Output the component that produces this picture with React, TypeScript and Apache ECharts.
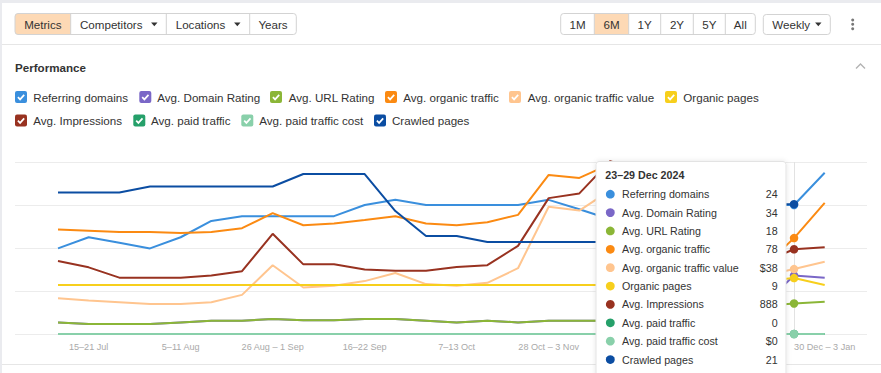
import React, { useEffect, useRef } from 'react';
import * as echarts from 'echarts';

// ---------- data ----------
const categories = [
  '8–14 Jul', '15–21 Jul', '22–28 Jul', '29 Jul – 4 Aug', '5–11 Aug', '12–18 Aug', '19–25 Aug',
  '26 Aug – 1 Sep', '2–8 Sep', '9–15 Sep', '16–22 Sep', '23–29 Sep', '30 Sep – 6 Oct', '7–13 Oct',
  '14–20 Oct', '21–27 Oct', '28 Oct – 3 Nov', '4–10 Nov', '11–17 Nov', '18–24 Nov', '25 Nov – 1 Dec',
  '2–8 Dec', '9–15 Dec', '16–22 Dec', '23–29 Dec', '30 Dec – 3 Jan',
];

const seriesNames = [
  'Referring domains', 'Avg. Domain Rating', 'Avg. URL Rating', 'Avg. organic traffic',
  'Avg. organic traffic value', 'Organic pages', 'Avg. Impressions', 'Avg. paid traffic',
  'Avg. paid traffic cost', 'Crawled pages',
];

const seriesColors = [
  '#3a8fdd', '#7a67c7', '#8bb637', '#fb8a12', '#ffc58f', '#f7cf1c', '#983220', '#25a06a', '#89d0aa', '#0b4da2',
];

// values are relative chart positions (each metric is scaled on its own)
const referringDomains = [1.99, 2.25, 2.12, 1.99, 2.25, 2.63, 2.74, 2.74, 2.74, 2.74, 3.0, 3.12, 3.0, 3.0, 3.0, 3.0, 3.12, 2.9, 2.67, 2.67, 2.74, 2.88, 3.0, 3.0, 3.0, 3.75];
const urlRating = [0.27, 0.23, 0.23, 0.23, 0.27, 0.31, 0.31, 0.35, 0.32, 0.32, 0.35, 0.35, 0.31, 0.27, 0.31, 0.27, 0.31, 0.31, 0.31, 0.31, 0.31, 0.37, 0.51, 0.65, 0.71, 0.75];
const domainRating = [0.27, 0.23, 0.23, 0.23, 0.27, 0.31, 0.31, 0.35, 0.32, 0.32, 0.35, 0.35, 0.31, 0.27, 0.31, 0.27, 0.31, 0.31, 0.31, 0.31, 0.31, 0.37, 0.51, 0.68, 1.36, 1.31];
const organicTraffic = [2.43, 2.4, 2.37, 2.37, 2.35, 2.37, 2.46, 2.81, 2.53, 2.57, 2.65, 2.74, 2.57, 2.53, 2.6, 2.77, 3.7, 3.63, 3.95, 3.81, 3.47, 2.77, 2.07, 1.56, 2.23, 3.05];
const organicTrafficValue = [0.83, 0.78, 0.74, 0.7, 0.7, 0.74, 0.91, 1.6, 1.08, 1.12, 1.23, 1.42, 1.16, 1.12, 1.19, 1.53, 2.96, 2.87, 3.34, 3.23, 2.77, 2.19, 1.67, 1.35, 1.51, 1.68];
const organicPages = [1.14, 1.14, 1.14, 1.14, 1.14, 1.14, 1.14, 1.14, 1.14, 1.14, 1.14, 1.14, 1.14, 1.14, 1.14, 1.14, 1.14, 1.14, 1.14, 1.14, 1.14, 1.14, 1.14, 1.23, 1.3, 1.14];
const impressions = [1.7, 1.55, 1.31, 1.31, 1.31, 1.36, 1.46, 2.33, 1.62, 1.62, 1.5, 1.47, 1.47, 1.56, 1.6, 2.05, 3.16, 3.27, 4.02, 3.81, 3.35, 2.65, 2.07, 1.67, 1.97, 2.02];
const paidTraffic = [0, 0, 0, 0, 0, 0, 0, 0, 0, 0, 0, 0, 0, 0, 0, 0, 0, 0, 0, 0, 0, 0, 0, 0, 0, 0];
const paidTrafficCost = [0, 0, 0, 0, 0, 0, 0, 0, 0, 0, 0, 0, 0, 0, 0, 0, 0, 0, 0, 0, 0, 0, 0, 0, 0, 0];
const crawledPages = [3.29, 3.29, 3.29, 3.43, 3.43, 3.43, 3.43, 3.43, 3.72, 3.72, 3.72, 2.86, 2.28, 2.28, 2.14, 2.14, 2.14, 2.14, 2.14, 2.14, 2.42, 2.77, 3.0, 3.02, 3.02, null];

const seriesData = [
  referringDomains, domainRating, urlRating, organicTraffic, organicTrafficValue,
  organicPages, impressions, paidTraffic, paidTrafficCost, crawledPages,
];

const tooltipIndex = 24;
const tooltipTitle = '23–29 Dec 2024';
const tooltipValues = ['24', '34', '18', '78', '$38', '9', '888', '0', '$0', '21'];

const toolbarLeft = ['Metrics', 'Competitors', 'Locations', 'Years'];
const toolbarRight = ['1M', '6M', '1Y', '2Y', '5Y', 'All'];
const intervalLabel = 'Weekly';
const sectionTitle = 'Performance';

// ---------- layout ----------
const FONT = 'Arial, "Liberation Sans", Helvetica, sans-serif';
const TEXT = '#333333';
const ACTIVE_BG = '#fdd9b5';
const BORDER = '#d3d3d3';

const legendLayout = [
  { row: 0, box: 15, text: 33.3 },
  { row: 0, box: 139.3, text: 157.3 },
  { row: 0, box: 270, text: 288.7 },
  { row: 0, box: 385, text: 403.3 },
  { row: 0, box: 509, text: 527.7 },
  { row: 0, box: 665, text: 683.3 },
  { row: 1, box: 15, text: 33.3 },
  { row: 1, box: 133.3, text: 151 },
  { row: 1, box: 241.3, text: 259.3 },
  { row: 1, box: 374, text: 392 },
];
const legendRowY = [97, 120.5];

function text(x: number, y: number, t: string, o: any = {}) {
  return {
    type: 'text', x, y, z: o.z ?? 10, silent: true,
    style: {
      text: t, fontSize: o.size ?? 11.6, fontFamily: FONT, fontWeight: o.weight ?? 'normal',
      fill: o.fill ?? TEXT, align: o.align ?? 'left', verticalAlign: 'middle',
    },
  };
}

function arrow(cx: number, cy: number) {
  return {
    type: 'polygon', z: 10, silent: true,
    shape: { points: [[cx - 3.2, cy - 1.8], [cx + 3.2, cy - 1.8], [cx, cy + 1.9]] },
    style: { fill: '#333' },
  };
}

function buttonGroup(bounds: number[], labels: string[], active: number, y: number, h: number, custom?: (i: number, x0: number, x1: number) => any[] | null) {
  const els: any[] = [];
  const x0 = bounds[0];
  const x1 = bounds[bounds.length - 1];
  const a0 = bounds[active];
  const a1 = bounds[active + 1];
  els.push({
    type: 'rect', z: 8, silent: true,
    shape: { x: a0, y, width: a1 - a0, height: h, r: active === 0 ? [3, 0, 0, 3] : 0 },
    style: { fill: ACTIVE_BG },
  });
  els.push({
    type: 'rect', z: 9, silent: true,
    shape: { x: x0, y, width: x1 - x0, height: h, r: 3 },
    style: { fill: 'none', stroke: BORDER, lineWidth: 1 },
  });
  for (let i = 1; i < bounds.length - 1; i++) {
    els.push({
      type: 'line', z: 9, silent: true,
      shape: { x1: bounds[i], y1: y, x2: bounds[i], y2: y + h },
      style: { stroke: BORDER, lineWidth: 1 },
    });
  }
  labels.forEach((l, i) => {
    const c = custom ? custom(i, bounds[i], bounds[i + 1]) : null;
    if (c) els.push(...c);
    else els.push(text((bounds[i] + bounds[i + 1]) / 2, y + h / 2, l, { align: 'center' }));
  });
  return els;
}

function buildGraphics() {
  const g: any[] = [];
  // page frame
  g.push({ type: 'rect', z: 1, silent: true, shape: { x: 0, y: 0, width: 881, height: 3 }, style: { fill: '#eaebef' } });
  g.push({ type: 'rect', z: 1, silent: true, shape: { x: 0, y: 0, width: 2, height: 373 }, style: { fill: '#eaebef' } });
  g.push({ type: 'line', z: 1, silent: true, shape: { x1: 2, y1: 44.5, x2: 881, y2: 44.5 }, style: { stroke: '#e6e6e6', lineWidth: 1 } });
  g.push({ type: 'line', z: 1, silent: true, shape: { x1: 2, y1: 364.5, x2: 881, y2: 364.5 }, style: { stroke: '#e6e6e6', lineWidth: 1 } });

  // toolbar left
  g.push(...buttonGroup([15, 70.7, 166.3, 249.7, 296.3], toolbarLeft, 0, 13.5, 21, (i) => {
    if (i === 1) return [text(80, 24, toolbarLeft[1]), arrow(154.3, 24.3)];
    if (i === 2) return [text(175.7, 24, toolbarLeft[2]), arrow(237.3, 24.3)];
    return null;
  }));
  // toolbar right
  g.push(...buttonGroup([560.7, 594.3, 628.7, 660.7, 693.3, 725.3, 755.3], toolbarRight, 1, 13.5, 21));
  g.push({
    type: 'rect', z: 9, silent: true,
    shape: { x: 763.3, y: 14.5, width: 67, height: 20, r: 3 },
    style: { fill: '#fff', stroke: BORDER, lineWidth: 1 },
  });
  g.push(text(772.3, 24.5, intervalLabel));
  g.push(arrow(818.3, 24.3));
  [20, 24.3, 28.7].forEach((cy) => {
    g.push({ type: 'circle', z: 10, silent: true, shape: { cx: 852.7, cy, r: 1.5 }, style: { fill: '#777' } });
  });

  // section title
  g.push(text(15, 67.7, sectionTitle, { weight: 'bold' }));
  g.push({
    type: 'polyline', z: 10, silent: true,
    shape: { points: [[856, 68.5], [860.5, 64], [865, 68.5]] },
    style: { stroke: '#b3b3b3', lineWidth: 1.4, fill: 'none' },
  });

  // legend
  seriesNames.forEach((name, i) => {
    const L = legendLayout[i];
    const cy = legendRowY[L.row];
    const bx = L.box;
    const by = cy - 6;
    g.push({
      type: 'rect', z: 10, silent: true,
      shape: { x: bx, y: by, width: 12, height: 12, r: 2 },
      style: { fill: seriesColors[i] },
    });
    g.push({
      type: 'polyline', z: 11, silent: true,
      shape: { points: [[bx + 2.9, by + 6.1], [bx + 5.1, by + 8.4], [bx + 9.2, by + 3.9]] },
      style: { stroke: '#ffffff', lineWidth: 1.7, fill: 'none' },
    });
    g.push(text(L.text, cy, name));
  });

  // tooltip
  const tx = 596;
  const ty = 161.5;
  g.push({
    type: 'rect', z: 100, silent: true,
    shape: { x: tx, y: ty, width: 190, height: 216, r: 3 },
    style: { fill: '#ffffff', stroke: '#e3e3e3', lineWidth: 1, shadowBlur: 5, shadowColor: 'rgba(0,0,0,0.10)' },
  });
  g.push(text(605.3, 175, tooltipTitle, { weight: 'bold', size: 10.7, z: 101 }));
  seriesNames.forEach((name, i) => {
    const cy = 194.2 + i * 18.37;
    g.push({ type: 'circle', z: 101, silent: true, shape: { cx: 610.3, cy, r: 4.4 }, style: { fill: seriesColors[i] } });
    g.push(text(622, cy, name, { size: 10.7, z: 101 }));
    g.push(text(777.6, cy, tooltipValues[i], { size: 10.7, z: 101, align: 'right' }));
  });
  return g;
}

export default function App() {
  const ref = useRef<HTMLDivElement>(null);
  useEffect(() => {
    if (!ref.current) return;
    const chart = echarts.init(ref.current, null, { renderer: 'svg' });
    const hiddenLabels = (i: number) => i >= 18 && i <= 23;
    const series: any[] = seriesNames.map((name, i) => ({
      name,
      type: 'line',
      xAxisIndex: 1,
      yAxisIndex: 1,
      data: seriesData[i],
      color: seriesColors[i],
      lineStyle: { width: 2, color: seriesColors[i] },
      itemStyle: { color: seriesColors[i], borderWidth: 0 },
      symbol: 'circle',
      showSymbol: true,
      showAllSymbol: true,
      symbolSize: (_v: any, p: any) => (p.dataIndex === tooltipIndex ? 8.5 : 0),
      clip: false,
      silent: true,
      z: 3,
      emphasis: { disabled: true },
      markLine: i === 0 ? {
        silent: true,
        z: 1,
        symbol: ['none', 'none'],
        label: { show: false },
        lineStyle: { color: '#e2e2e2', width: 1, type: 'solid' },
        data: [{ xAxis: categories[tooltipIndex] }],
      } : undefined,
    }));
    chart.setOption({
      animation: false,
      backgroundColor: '#ffffff',
      textStyle: { fontFamily: FONT },
      grid: [
        { left: 15, right: 14, top: 162, bottom: 39 },
        { left: 58, right: 56.3, top: 162, bottom: 39 },
      ],
      xAxis: [
        { type: 'category', gridIndex: 0, data: categories, show: false },
        {
          type: 'category', gridIndex: 1, data: categories, boundaryGap: false,
          axisLine: { show: false }, axisTick: { show: false },
          axisLabel: {
            color: '#a9a9a9', fontSize: 9.1, margin: 8, fontFamily: FONT,
            interval: (i: number) => i % 3 === 1 && !hiddenLabels(i),
          },
          splitLine: { show: false },
        },
      ],
      yAxis: [
        {
          type: 'value', gridIndex: 0, min: 0, max: 4, interval: 1,
          axisLabel: { show: false }, axisLine: { show: false }, axisTick: { show: false },
          splitLine: { show: true, lineStyle: { color: '#ececec', width: 1 } },
        },
        { type: 'value', gridIndex: 1, min: 0, max: 4, show: false, splitLine: { show: false } },
      ],
      series,
      graphic: buildGraphics(),
    });
    return () => chart.dispose();
  }, []);
  return (
    <div
      ref={ref}
      style={{ position: 'fixed', left: 0, top: 0, width: 881, height: 373, background: '#fff' }}
    />
  );
}
